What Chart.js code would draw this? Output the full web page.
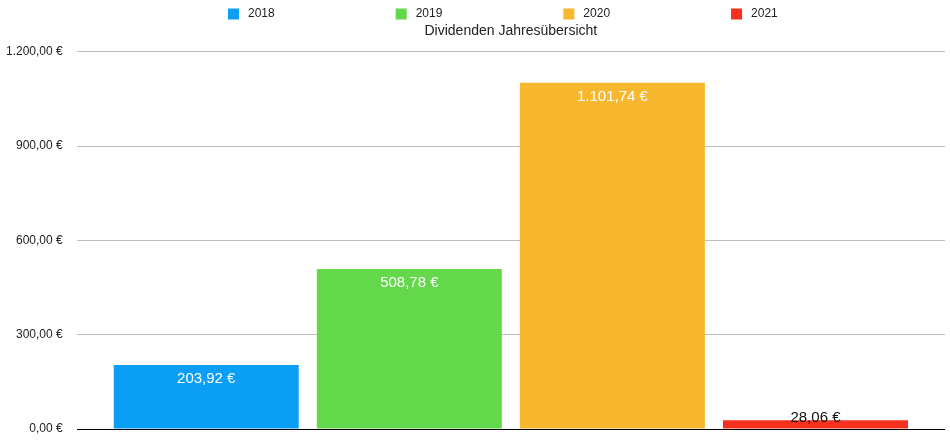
<!DOCTYPE html>
<html>
<head>
<meta charset="utf-8">
<script src="https://cdn.jsdelivr.net/npm/chart.js@4/dist/chart.umd.min.js"></script>
<style>
  html, body { margin: 0; padding: 0; background: #fff; }
  #chart { display: block; }
</style>
</head>
<body>
<canvas id="chart" width="950" height="442"></canvas>
<script>
const years = ['2018', '2019', '2020', '2021'];
const dividends = [203.92, 508.78, 1101.74, 28.06];
const barColors = ['#0a9ff5', '#64d84b', '#f7b830', '#f5301e'];
const yMax = 1200;
const yStep = 300;

const FONT = "'Liberation Sans', Arial, Helvetica, sans-serif";

function euro(v) {
  const [int, dec] = Number(v).toFixed(2).split('.');
  return int.replace(/\B(?=(\d{3})+(?!\d))/g, '.') + ',' + dec + ' €';
}

// legend drawn by hand: Chart.js uses the same padding for row height,
// so wide gaps between items blow up the legend box
const yearLegend = {
  id: 'yearLegend',
  afterDraw(chart) {
    const { ctx, chartArea } = chart;
    const box = 11;
    const gap = 121;
    ctx.save();
    ctx.font = '12px ' + FONT;
    ctx.textBaseline = 'middle';
    const items = chart.data.datasets.map(ds => ({
      text: ds.label,
      color: ds.backgroundColor,
      w: box + 9 + ctx.measureText(ds.label).width
    }));
    const total = items.reduce((s, it) => s + it.w, 0) + gap * (items.length - 1);
    let x = (chartArea.left + chartArea.right) / 2 - 8 - total / 2;
    const y = 14;
    for (const it of items) {
      ctx.fillStyle = it.color;
      ctx.fillRect(x, y - box / 2, box, box);
      ctx.fillStyle = '#222';
      ctx.textAlign = 'left';
      ctx.fillText(it.text, x + box + 9, y);
      x += it.w + gap;
    }
    ctx.restore();
  }
};

const barValues = {
  id: 'barValues',
  afterDatasetsDraw(chart) {
    const { ctx } = chart;
    ctx.save();
    ctx.font = '15px ' + FONT;
    ctx.textAlign = 'center';
    ctx.textBaseline = 'middle';
    chart.data.datasets.forEach((ds, i) => {
      const bar = chart.getDatasetMeta(i).data[0];
      if (!bar) return;
      const h = bar.base - bar.y;
      if (h > 30) {
        ctx.fillStyle = '#fff';
        ctx.fillText(euro(ds.data[0]), bar.x, bar.y + 14);
      } else {
        ctx.fillStyle = '#111';
        ctx.fillText(euro(ds.data[0]), bar.x, bar.y - 2);
      }
    });
    ctx.restore();
  }
};

new Chart(document.getElementById('chart'), {
  type: 'bar',
  data: {
    labels: [''],
    datasets: years.map((y, i) => ({
      label: y,
      data: [dividends[i]],
      backgroundColor: barColors[i],
      borderWidth: 0,
      categoryPercentage: 0.9355,
      barPercentage: 0.911
    }))
  },
  options: {
    responsive: false,
    animation: false,
    layout: { padding: { left: -8, right: 5, top: 0, bottom: 13 } },
    plugins: {
      legend: { display: false },
      tooltip: { enabled: false },
      title: {
        display: true,
        text: 'Dividenden Jahresübersicht',
        fullSize: false,
        color: '#222',
        font: { family: FONT, size: 14, weight: 'normal' },
        padding: { top: 23, bottom: 12 }
      }
    },
    scales: {
      x: {
        display: false
      },
      y: {
        min: 0,
        max: yMax,
        // tick padding also pads top/bottom of the axis, undo that
        afterFit: scale => {
          scale.paddingTop = 7;
          scale.paddingBottom = 7;
        },
        ticks: {
          stepSize: yStep,
          padding: 14,
          color: '#222',
          font: { family: FONT, size: 12 },
          callback: v => euro(v)
        },
        grid: {
          color: ctx => ctx.tick && ctx.tick.value === 0 ? '#000' : '#bdbdbd',
          drawTicks: false
        },
        border: { display: false }
      }
    }
  },
  plugins: [yearLegend, barValues]
});
</script>
</body>
</html>
